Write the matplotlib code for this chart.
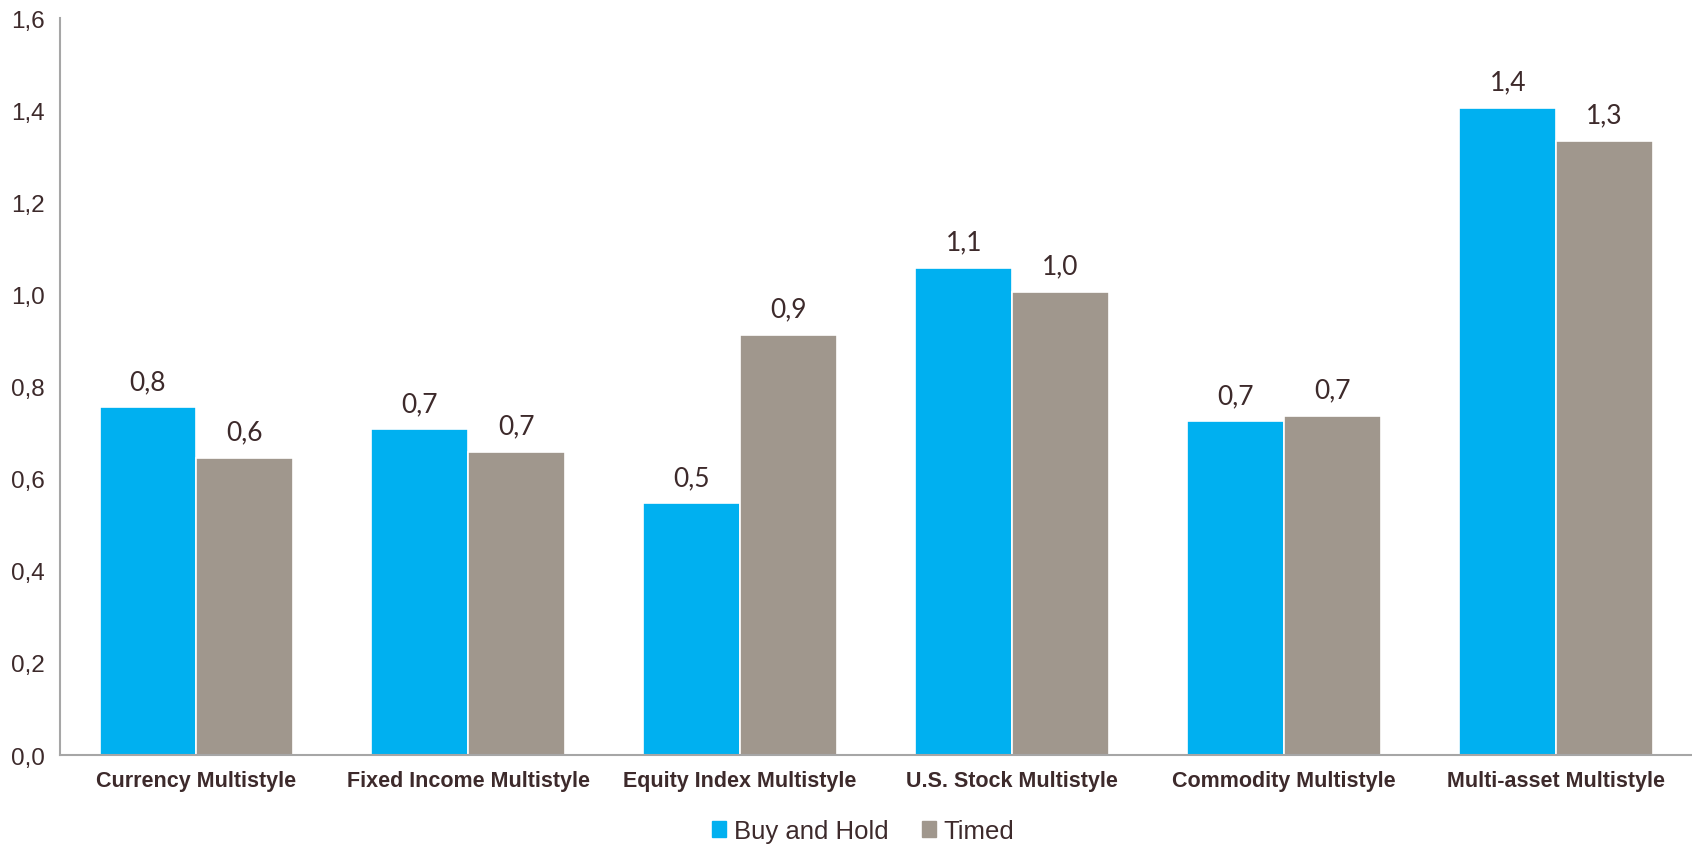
import matplotlib
matplotlib.use("Agg")
import matplotlib.pyplot as plt
import numpy as np
from matplotlib.patches import Patch

categories = ["Currency Multistyle", "Fixed Income Multistyle", "Equity Index Multistyle",
              "U.S. Stock Multistyle", "Commodity Multistyle", "Multi-asset Multistyle"]
buy_hold = [0.755, 0.707, 0.547, 1.058, 0.725, 1.405]
timed = [0.646, 0.658, 0.913, 1.006, 0.737, 1.334]
series_names = ["Buy and Hold", "Timed"]
yticks = [0.0, 0.2, 0.4, 0.6, 0.8, 1.0, 1.2, 1.4, 1.6]

c_bh = "#00B0F0"
c_tm = "#A0978D"
txt = "#3D2A2B"

fig = plt.figure(figsize=(16.92, 8.45), dpi=100)
ax = fig.add_axes([0.0355, 0.1053, 0.9645, 0.872])

x = np.arange(len(categories))
w = 0.355
b1 = ax.bar(x - w / 2, buy_hold, w, color=c_bh, edgecolor="white", linewidth=1.2)
b2 = ax.bar(x + w / 2, timed, w, color=c_tm, edgecolor="white", linewidth=1.2)

for bars, vals in ((b1, buy_hold), (b2, timed)):
    for r, v in zip(bars, vals):
        ax.annotate(f"{v:.1f}".replace(".", ","), (r.get_x() + r.get_width() / 2, v),
                    xytext=(0, 9.5), textcoords="offset points", ha="center", va="bottom",
                    fontsize=19, family=["Lato", "DejaVu Sans"], fontweight="normal", color=txt)

ax.set_xlim(-0.5, len(categories) - 0.5)
ax.set_ylim(0, 1.6)
ax.set_yticks(yticks)
ax.set_yticklabels([f"{t:.1f}".replace(".", ",") for t in yticks],
                   fontsize=17.5, family="Liberation Sans", color=txt)
ax.set_xticks(x)
ax.set_xticklabels(categories, fontsize=15.5, fontweight="bold",
                   family=["Liberation Sans Narrow", "Liberation Sans"], color=txt)
ax.tick_params(axis="y", length=0, pad=11)
ax.tick_params(axis="x", length=0, pad=11)
for s in ("top", "right"):
    ax.spines[s].set_visible(False)
for s in ("left", "bottom"):
    ax.spines[s].set_color("#A6A6A6")
    ax.spines[s].set_linewidth(1.5)

handles = [Patch(color=c_bh), Patch(color=c_tm)]
fig.legend(handles, series_names, loc="center", bbox_to_anchor=(0.51, 0.0154), ncol=2,
           frameon=False, prop={"family": "Liberation Sans", "size": 18.5},
           handlelength=0.55, handleheight=0.55, handletextpad=0.3, columnspacing=1.3,
           labelcolor=txt)

fig.savefig("out.png", dpi=100)
